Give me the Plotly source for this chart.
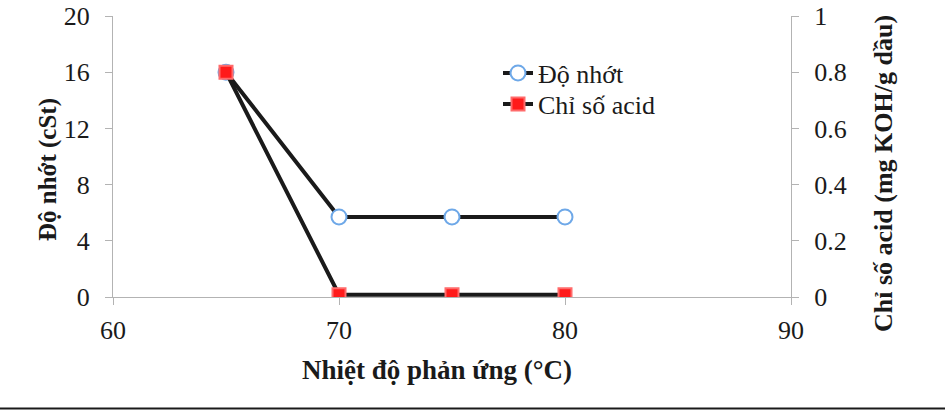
import plotly.graph_objects as go

temps = [65, 70, 75, 80]
viscosity = [16, 5.7, 5.7, 5.7]
acid_value = [0.8, 0.008, 0.008, 0.008]
x_ticks = [60, 70, 80, 90]
y1_ticks = [0, 4, 8, 12, 16, 20]
y2_ticks = [0, 0.2, 0.4, 0.6, 0.8, 1]
y2_labels = ["0", "0.2", "0.4", "0.6", "0.8", "1"]

W, H = 945, 410
L, R, T, B = 113, 154, 16, 113
pw, ph = W - L - R, H - T - B

def px(x):
    return (x - L) / pw

def py(y):
    return (H - B - y) / ph

FONT = "Liberation Serif"
AX = "#b3b3b3"

fig = go.Figure()
fig.add_trace(go.Scatter(
    x=temps, y=viscosity, name="Độ nhớt", mode="lines+markers",
    line=dict(color="#1a1a1a", width=4),
    marker=dict(symbol="circle", size=15, color="white",
                line=dict(color="#6ea8e8", width=2)),
    yaxis="y", legend="legend"))
fig.add_trace(go.Scatter(
    x=temps, y=acid_value, name="Chỉ số acid", mode="lines+markers",
    line=dict(color="#1a1a1a", width=4),
    marker=dict(symbol="square", size=13, color="#ff1a1a",
                line=dict(color="#ff6b6b", width=2)),
    yaxis="y2", legend="legend2"))

tickfont = dict(family=FONT, size=26, color="#1a1a1a")
legfont = dict(family=FONT, size=26, color="#1a1a1a")
fig.update_layout(
    width=W, height=H,
    margin=dict(l=L, r=R, t=T, b=B, pad=0, autoexpand=False),
    paper_bgcolor="white", plot_bgcolor="white",
    font=dict(family=FONT, color="#1a1a1a"),
    showlegend=True,
    legend=dict(x=px(498), y=py(73), xanchor="left", yanchor="middle",
                bgcolor="rgba(0,0,0,0)", font=legfont, itemwidth=30),
    legend2=dict(x=px(498), y=py(104), xanchor="left", yanchor="middle",
                 bgcolor="rgba(0,0,0,0)", font=legfont, itemwidth=30),
    xaxis=dict(range=[60, 90], tickvals=x_ticks, showgrid=False, zeroline=False,
               showline=True, linecolor=AX, linewidth=1, ticks="outside", automargin=False,
               ticklen=7, tickcolor=AX, tickfont=tickfont, ticklabelstandoff=3),
    yaxis=dict(range=[0, 20], tickvals=y1_ticks, showgrid=False, zeroline=False,
               showline=True, linecolor=AX, linewidth=1, ticks="outside", automargin=False,
               ticklen=7, tickcolor=AX, tickfont=tickfont, ticklabelstandoff=10),
    yaxis2=dict(range=[0, 1], tickvals=y2_ticks, ticktext=y2_labels, overlaying="y",
                side="right", showgrid=False, zeroline=False, automargin=False,
                showline=True, linecolor=AX, linewidth=1, ticks="outside",
                ticklen=7, tickcolor=AX, tickfont=tickfont, ticklabelstandoff=10),
)

fig.add_annotation(text="<b>Nhiệt độ phản ứng (°C)</b>", xref="paper", yref="paper",
                   x=px(437), y=py(370), showarrow=False,
                   font=dict(family=FONT, size=27, color="#1a1a1a"),
                   xanchor="center", yanchor="middle")
fig.add_annotation(text="<b>Độ nhớt (cSt)</b>", xref="paper", yref="paper",
                   x=px(48), y=py(170), showarrow=False,
                   font=dict(family=FONT, size=25, color="#1a1a1a"), textangle=-90,
                   xanchor="center", yanchor="middle")
fig.add_annotation(text="<b>Chỉ số acid (mg KOH/g dầu)</b>", xref="paper", yref="paper",
                   x=px(883), y=py(173), showarrow=False,
                   font=dict(family=FONT, size=26, color="#1a1a1a"), textangle=-90,
                   xanchor="center", yanchor="middle")
fig.add_shape(type="line", xref="paper", yref="paper",
              x0=px(0), x1=px(945), y0=py(408.5), y1=py(408.5),
              line=dict(color="#1a1a1a", width=2))

fig.write_html("out.html", config={"displayModeBar": False},
               post_script="document.body.style.margin='0px';document.body.style.overflow='hidden';")
